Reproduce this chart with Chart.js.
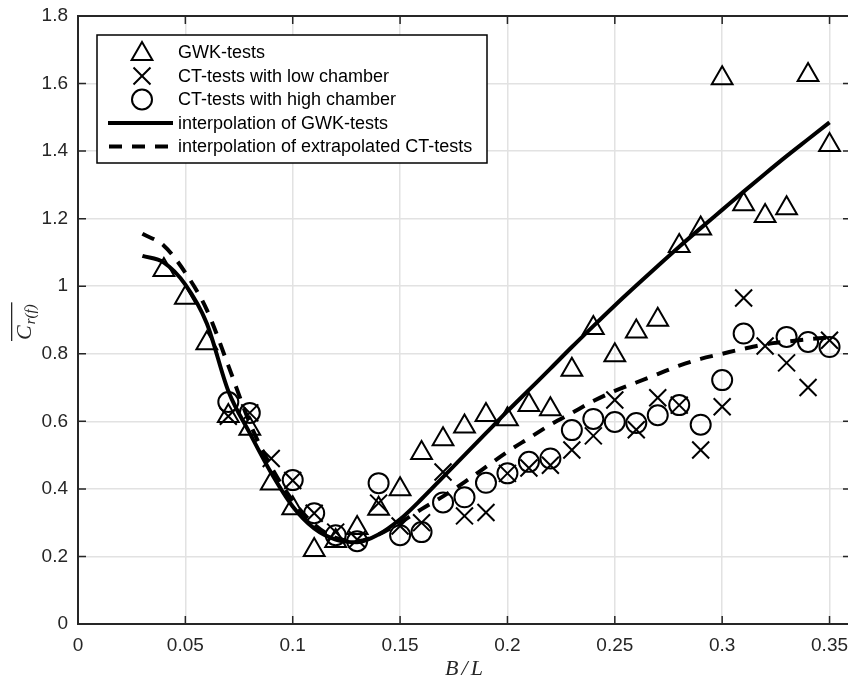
<!DOCTYPE html>
<html><head><meta charset="utf-8">
<script src="https://cdn.jsdelivr.net/npm/chart.js@4.4.0/dist/chart.umd.min.js"></script>
<style>
html,body{margin:0;padding:0;overflow:hidden;background:#fff;}
#wrap{position:relative;width:851px;height:682px;}
</style></head><body>
<div id="wrap"><canvas id="c" width="851" height="682"></canvas></div>
<script>
const xTicks = [0, 0.05, 0.1, 0.15, 0.2, 0.25, 0.3, 0.35];
const xTickLabels = ['0', '0.05', '0.1', '0.15', '0.2', '0.25', '0.3', '0.35'];
const yTicks = [0, 0.2, 0.4, 0.6, 0.8, 1, 1.2, 1.4, 1.6, 1.8];
const yTickLabels = ['0', '0.2', '0.4', '0.6', '0.8', '1', '1.2', '1.4', '1.6', '1.8'];

const seriesLabels = ['GWK-tests', 'CT-tests with low chamber', 'CT-tests with high chamber',
  'interpolation of GWK-tests', 'interpolation of extrapolated CT-tests'];

const gwkX = [0.04,0.05,0.06,0.07,0.08,0.09,0.10,0.11,0.12,0.13,0.14,0.15,0.16,0.17,0.18,0.19,0.20,0.21,0.22,0.23,0.24,0.25,0.26,0.27,0.28,0.29,0.30,0.31,0.32,0.33,0.34,0.35];
const gwkY = [1.048,0.966,0.831,0.616,0.578,0.416,0.343,0.219,0.246,0.284,0.341,0.399,0.506,0.547,0.585,0.619,0.606,0.648,0.636,0.753,0.876,0.796,0.866,0.901,1.119,1.171,1.616,1.243,1.208,1.231,1.625,1.418];

const lowX = [0.07,0.08,0.09,0.10,0.11,0.12,0.13,0.14,0.15,0.16,0.17,0.18,0.19,0.20,0.21,0.22,0.23,0.24,0.25,0.26,0.27,0.28,0.29,0.30,0.31,0.32,0.33,0.34,0.35];
const lowY = [0.615,0.625,0.49,0.425,0.328,0.272,0.25,0.358,0.29,0.30,0.45,0.32,0.33,0.446,0.462,0.47,0.515,0.557,0.663,0.575,0.67,0.648,0.515,0.643,0.965,0.823,0.773,0.70,0.84];

const highX = [0.07,0.08,0.10,0.11,0.12,0.13,0.14,0.15,0.16,0.17,0.18,0.19,0.20,0.21,0.22,0.23,0.24,0.25,0.26,0.27,0.28,0.29,0.30,0.31,0.33,0.34,0.35];
const highY = [0.657,0.625,0.426,0.328,0.263,0.245,0.417,0.263,0.272,0.36,0.375,0.418,0.446,0.48,0.49,0.574,0.607,0.598,0.595,0.618,0.648,0.59,0.722,0.86,0.85,0.835,0.82];

const fitX = [0.03,0.04,0.05,0.06,0.07,0.08,0.09,0.10,0.11,0.12,0.13,0.14,0.15,0.16,0.17,0.18,0.19,0.20,0.21,0.22,0.23,0.24,0.25,0.26,0.27,0.28,0.29,0.30,0.31,0.32,0.33,0.34,0.35];
const gwkFitY = [1.09,1.07,1.005,0.89,0.69,0.565,0.447,0.348,0.283,0.25,0.242,0.265,0.31,0.37,0.435,0.50,0.565,0.63,0.693,0.756,0.82,0.882,0.943,1.002,1.06,1.117,1.172,1.226,1.28,1.333,1.385,1.435,1.485];
const ctFitY = [1.155,1.12,1.04,0.93,0.765,0.595,0.465,0.365,0.295,0.255,0.245,0.265,0.30,0.34,0.378,0.42,0.465,0.51,0.55,0.59,0.625,0.66,0.69,0.715,0.74,0.765,0.785,0.80,0.815,0.828,0.836,0.843,0.848];

const pts = (xs, ys) => xs.map((v, i) => ({x: v, y: ys[i]}));
const INK = '#000000';
const AX = '#262626';

const datasets = [
  {label: seriesLabels[0], data: pts(gwkX, gwkY), showLine: false, pointStyle: 'triangle', pointRadius: 12,
   pointBorderWidth: 2, pointBorderColor: INK, pointBackgroundColor: 'rgba(0,0,0,0)', order: 2},
  {label: seriesLabels[1], data: pts(lowX, lowY), showLine: false, pointStyle: 'crossRot', pointRadius: 12,
   pointBorderWidth: 2, pointBorderColor: INK, pointBackgroundColor: 'rgba(0,0,0,0)', order: 2},
  {label: seriesLabels[2], data: pts(highX, highY), showLine: false, pointStyle: 'circle', pointRadius: 10,
   pointBorderWidth: 2, pointBorderColor: INK, pointBackgroundColor: 'rgba(0,0,0,0)', order: 2},
  {label: seriesLabels[3], data: pts(fitX, gwkFitY), showLine: true, pointRadius: 0, borderWidth: 4,
   borderColor: INK, cubicInterpolationMode: 'monotone', order: 1},
  {label: seriesLabels[4], data: pts(fitX, ctFitY), showLine: true, pointRadius: 0, borderWidth: 4,
   borderColor: INK, borderDash: [13, 10], borderCapStyle: 'butt', cubicInterpolationMode: 'monotone', order: 1}
];

const tickFont = {family: '"Liberation Sans", Arial, sans-serif', size: 19};
const noPad = s => { s.paddingTop = 0; s.paddingBottom = 0; s.paddingLeft = 0; s.paddingRight = 0; };

const matlabPlugin = {
  id: 'matlab',
  afterDraw(chart) {
    const {ctx, chartArea: a, scales: {x, y}} = chart;
    ctx.save();
    ctx.strokeStyle = AX; ctx.lineWidth = 1.5;
    const tl = 8;
    ctx.beginPath();
    xTicks.forEach(v => {
      const px = x.getPixelForValue(v);
      ctx.moveTo(px, a.bottom); ctx.lineTo(px, a.bottom - tl);
      ctx.moveTo(px, a.top); ctx.lineTo(px, a.top + tl);
    });
    yTicks.forEach(v => {
      const py = y.getPixelForValue(v);
      ctx.moveTo(a.left, py); ctx.lineTo(a.left + tl, py);
      ctx.moveTo(a.right, py); ctx.lineTo(a.right - tl, py);
    });
    ctx.stroke();
    ctx.lineWidth = 2;
    ctx.strokeRect(a.left, a.top, a.right - a.left, a.bottom - a.top);

    // legend
    const lx = 97, ly = 35, lw = 390, lh = 128;
    ctx.fillStyle = '#ffffff';
    ctx.fillRect(lx, ly, lw, lh);
    ctx.strokeStyle = INK; ctx.lineWidth = 1.5;
    ctx.strokeRect(lx, ly, lw, lh);
    const rowY = [52, 76, 99.5, 123, 146.5];
    ctx.font = '18px "Liberation Sans", Arial, sans-serif';
    ctx.textBaseline = 'middle'; ctx.textAlign = 'left';
    chart.data.datasets.forEach((ds, i) => {
      const cy = rowY[i];
      ctx.save();
      ctx.strokeStyle = INK; ctx.fillStyle = 'rgba(0,0,0,0)';
      if (!ds.showLine) {
        ctx.lineWidth = 2;
        Chart.helpers.drawPoint(ctx, {pointStyle: ds.pointStyle, radius: ds.pointRadius, borderWidth: 2, rotation: 0}, 142, cy + (ds.pointStyle === 'triangle' ? 2 : 0));
      } else {
        ctx.lineWidth = 4; ctx.lineCap = 'butt';
        ctx.setLineDash(ds.borderDash || []);
        ctx.beginPath(); ctx.moveTo(ds.borderDash ? 109 : 108, cy); ctx.lineTo(173, cy); ctx.stroke();
      }
      ctx.restore();
      ctx.fillStyle = INK;
      ctx.fillText(ds.label, 178, cy + 1);
    });

    // axis titles
    ctx.fillStyle = AX;
    ctx.font = 'italic 22px "Liberation Serif", "DejaVu Serif", serif';
    ctx.textAlign = 'center'; ctx.textBaseline = 'alphabetic';
    ctx.letterSpacing = '3px';
    ctx.fillText('B/L', (a.left + a.right) / 2 + 1, 675);
    ctx.letterSpacing = '0px';

    ctx.translate(31, 340); ctx.rotate(-Math.PI / 2);
    ctx.textAlign = 'left';
    ctx.font = 'italic 22px "Liberation Serif", "DejaVu Serif", serif';
    ctx.fillText('C', 0, 0);
    const wC = ctx.measureText('C').width;
    ctx.font = 'italic 15px "Liberation Serif", "DejaVu Serif", serif';
    ctx.fillText('r(f)', wC + 1, 4);
    const wS = ctx.measureText('r(f)').width;
    ctx.fillRect(-1, -20, wC + wS + 4, 1.3);
    ctx.restore();
  }
};

new Chart(document.getElementById('c'), {
  type: 'scatter',
  data: {datasets},
  options: {
    responsive: false,
    animation: false,
    devicePixelRatio: 1,
    layout: {autoPadding: false, padding: {left: 0, top: 16, right: 0, bottom: 0}},
    plugins: {legend: {display: false}, tooltip: {enabled: false}},
    scales: {
      x: {
        type: 'linear', min: 0, max: 0.36,
        afterBuildTicks: s => { s.ticks = xTicks.map(v => ({value: v})); },
        afterFit: s => { s.height = 58; noPad(s); },
        ticks: {font: tickFont, color: AX, padding: 10, maxRotation: 0, autoSkip: false,
          callback: (v) => { const i = xTicks.findIndex(t => Math.abs(t - v) < 1e-9); return i >= 0 ? xTickLabels[i] : ''; }},
        grid: {color: '#e2e2e2', lineWidth: 1.5, drawTicks: false},
        border: {display: false}
      },
      y: {
        type: 'linear', min: 0, max: 1.8,
        afterBuildTicks: s => { s.ticks = yTicks.map(v => ({value: v})); },
        afterFit: s => { s.width = 78; noPad(s); },
        ticks: {font: tickFont, color: AX, padding: 10, autoSkip: false,
          callback: (v) => { const i = yTicks.findIndex(t => Math.abs(t - v) < 1e-9); return i >= 0 ? yTickLabels[i] : ''; }},
        grid: {color: '#e2e2e2', lineWidth: 1.5, drawTicks: false},
        border: {display: false}
      }
    }
  },
  plugins: [matlabPlugin]
});
</script>
</body></html>
